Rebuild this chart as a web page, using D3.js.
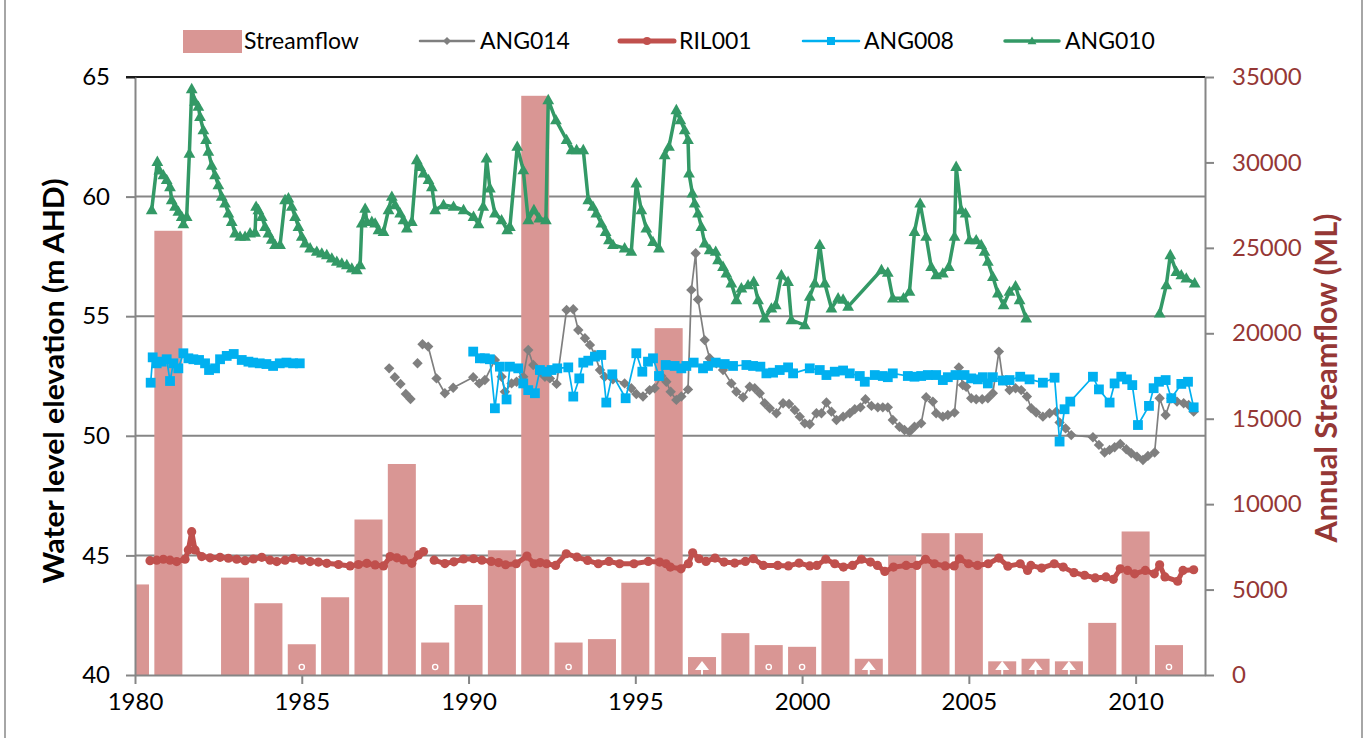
<!DOCTYPE html>
<html><head><meta charset="utf-8">
<script src="https://cdn.jsdelivr.net/npm/d3@7/dist/d3.min.js"></script>
<style>
body{margin:0;background:#fff}
svg{display:block}
text{font-family:Lato,"Open Sans",sans-serif}
</style>
</head><body>
<svg id="chart" width="1368" height="738"></svg>
<script>
// ---------------- DATA ----------------
const flowYears = [1980,1981,1982,1983,1984,1985,1986,1987,1988,1989,1990,1991,1992,1993,1994,1995,1996,1997,1998,1999,2000,2001,2002,2003,2004,2005,2006,2007,2008,2009,2010,2011];
const streamflow = [5300,26000,null,5700,4200,1800,4550,9100,12350,1900,4100,7300,33900,1900,2100,5400,20300,1050,2450,1750,1650,5500,950,7000,8300,8300,800,950,800,3050,8400,1750];
const flowMarkYears = [1985,1989,1993,1997,1999,2000,2002,2006,2007,2008,2011];
const flowMarkTypes = ["dot","dot","dot","tri","dot","dot","tri","tri","tri","tri","dot"];

const ang014 = [[1987.62,52.82],null,[1987.79,52.45],null,[1987.96,52.17],null,[1988.12,51.75],null,[1988.26,51.54],null,[1988.47,53.03],null,
[1988.62,53.83],[1988.79,53.73],[1989.04,52.4],[1989.29,51.78],[1989.54,52.01],[1990.14,52.45],[1990.32,52.19],[1990.49,52.33],[1990.79,53.17],[1990.99,52.47],[1991.09,51.84],[1991.29,52.19],[1991.44,52.26],[1991.64,52.47],[1991.79,53.59],[1991.94,52.96],[1992.14,52.68],[1992.29,52.47],[1992.44,52.4],[1992.64,52.17],[1992.94,55.26],[1993.14,55.29],[1993.29,54.42],[1993.49,54.08],[1993.64,53.8],[1993.79,53.38],[1993.94,52.75],[1994.08,52.47],[1994.33,52.36],[1994.68,52.19],[1994.88,51.99],[1995.03,51.75],[1995.23,51.64],[1995.43,51.91],[1995.58,51.99],[1995.78,52.5],[1995.93,52.26],[1996.06,51.84],[1996.23,51.5],[1996.38,51.64],[1996.58,51.94],[1996.68,56.1],[1996.81,57.63],[1996.88,55.7],[1997.08,54.0],[1997.23,53.24],[1997.43,53.03],[1997.63,52.75],[1997.88,52.19],[1998.03,51.84],[1998.23,51.61],[1998.43,52.05],[1998.58,51.99],[1998.73,51.78],[1998.88,51.36],[1999.03,51.15],[1999.23,50.94],[1999.43,51.36],[1999.61,51.33],[1999.78,51.08],[1999.93,50.8],[2000.08,50.52],[2000.23,50.48],[2000.43,50.94],[2000.58,50.94],[2000.73,51.39],[2000.88,51.01],[2001.03,50.66],[2001.23,50.8],[2001.43,50.94],[2001.58,51.11],[2001.75,51.19],[2001.90,51.53],[2002.08,51.25],[2002.27,51.19],[2002.42,51.19],[2002.57,51.19],[2002.72,50.66],[2002.92,50.38],[2003.07,50.24],[2003.22,50.17],[2003.37,50.38],[2003.57,50.52],[2003.72,51.61],[2003.92,51.43],[2004.02,50.94],[2004.22,50.8],[2004.37,50.87],[2004.57,50.97],[2004.70,52.86],[2004.82,52.12],[2004.92,52.05],[2005.07,51.57],[2005.22,51.53],[2005.40,51.53],[2005.57,51.57],[2005.72,51.78],[2005.90,53.52],[2006.02,52.33],[2006.22,51.91],[2006.40,51.99],[2006.57,51.91],[2006.74,51.64],[2006.87,51.15],[2007.02,50.97],[2007.22,50.8],[2007.42,50.94],[2007.62,51.01],[2007.72,50.56],[2007.90,50.31],[2008.07,50.03],[2008.72,49.94],[2008.90,49.62],[2009.07,49.3],[2009.22,49.41],[2009.37,49.52],[2009.54,49.66],[2009.72,49.44],[2009.87,49.27],[2010.04,49.13],[2010.22,48.99],[2010.37,49.16],[2010.57,49.3],[2010.72,51.57],[2010.90,50.87],[2011.07,51.57],[2011.24,51.43],[2011.44,51.36],[2011.59,51.29],[2011.74,51.01]];

const ril001 = [[1980.45,44.78],[1980.65,44.8],[1980.85,44.84],[1981.05,44.8],[1981.25,44.74],[1981.5,44.84],[1981.6,45.23],[1981.7,45.99],[1981.8,45.23],[1982.0,44.95],[1982.25,44.9],[1982.55,44.92],[1982.8,44.88],[1983.05,44.84],[1983.3,44.78],[1983.55,44.85],[1983.8,44.92],[1984.05,44.8],[1984.25,44.74],[1984.5,44.8],[1984.75,44.88],[1985.0,44.8],[1985.25,44.74],[1985.5,44.72],[1985.75,44.67],[1986.1,44.62],[1986.45,44.56],[1986.7,44.62],[1986.95,44.67],[1987.2,44.6],[1987.45,44.56],[1987.65,44.95],[1987.85,44.9],[1988.05,44.81],[1988.3,44.67],[1988.5,45.02],[1988.65,45.16],null,[1988.97,44.8],[1989.29,44.66],[1989.56,44.73],[1989.85,44.85],[1990.15,44.86],[1990.4,44.8],[1990.68,44.75],[1990.9,44.7],[1991.11,44.61],[1991.43,44.65],[1991.75,44.97],[1991.97,44.65],[1992.15,44.7],[1992.34,44.65],[1992.61,44.58],[1992.93,45.07],[1993.25,44.93],[1993.57,44.79],[1993.89,44.65],[1994.21,44.75],[1994.53,44.65],[1994.96,44.65],[1995.39,44.75],[1995.73,44.72],[1995.92,44.65],[1996.05,44.51],[1996.37,44.44],[1996.59,44.65],[1996.72,45.11],[1996.91,44.86],[1997.12,44.75],[1997.39,44.89],[1997.66,44.72],[1997.98,44.68],[1998.3,44.75],[1998.54,44.86],[1998.84,44.58],[1999.27,44.58],[1999.59,44.56],[1999.91,44.68],[2000.23,44.56],[2000.44,44.58],[2000.71,44.84],[2000.98,44.65],[2001.24,44.51],[2001.51,44.58],[2001.78,44.84],[2002.05,44.72],[2002.26,44.58],[2002.48,44.33],[2002.74,44.51],[2003.12,44.58],[2003.44,44.58],[2003.7,44.84],[2003.97,44.65],[2004.29,44.56],[2004.56,44.56],[2004.72,44.86],[2004.99,44.65],[2005.26,44.58],[2005.58,44.65],[2005.9,44.89],[2006.17,44.55],[2006.54,44.65],[2006.76,44.37],[2006.86,44.58],[2007.18,44.47],[2007.56,44.65],[2007.83,44.51],[2008.15,44.28],[2008.47,44.17],[2008.79,44.06],[2009.11,44.1],[2009.33,44.0],[2009.54,44.44],[2009.76,44.37],[2009.97,44.23],[2010.29,44.37],[2010.56,44.23],[2010.72,44.61],[2010.88,44.1],[2011.26,43.92],[2011.42,44.37],[2011.74,44.4]];

const ang008 = [[1980.47,52.22],[1980.53,53.28],[1980.65,53.03],[1980.80,53.1],[1980.95,53.2],[1981.05,52.29],[1981.15,53.03],[1981.30,52.82],[1981.45,53.45],[1981.60,53.24],[1981.75,53.2],[1981.92,53.17],[1982.10,53.03],[1982.22,52.75],[1982.40,52.82],[1982.55,53.2],[1982.75,53.34],[1982.96,53.42],[1983.20,53.17],[1983.40,53.1],[1983.54,53.06],[1983.74,53.03],[1983.94,53.0],[1984.14,52.92],[1984.34,53.03],[1984.54,53.06],[1984.74,53.03],[1984.94,53.03],null,
[1990.14,53.52],[1990.34,53.24],[1990.49,53.24],[1990.64,53.2],[1990.79,51.15],[1990.94,52.89],[1991.14,51.52],[1991.24,52.89],[1991.49,52.82],[1991.64,52.19],[1991.79,51.91],[1991.99,51.78],[1992.14,52.75],[1992.34,52.68],[1992.49,52.75],[1992.66,52.82],[1992.99,52.86],[1993.14,51.64],[1993.32,52.4],[1993.44,53.06],[1993.59,53.14],[1993.79,53.31],[1993.98,53.38],[1994.13,51.39],[1994.31,52.57],[1994.71,51.57],[1995.03,53.45],[1995.21,52.68],[1995.38,53.1],[1995.53,53.24],[1995.71,52.5],[1995.91,52.96],[1996.18,52.92],[1996.38,52.82],[1996.53,52.92],[1996.75,53.06],[1997.03,52.82],[1997.18,52.92],[1997.41,53.06],[1997.68,53.0],[1997.93,52.92],[1998.33,52.96],[1998.53,52.92],[1998.75,52.89],[1998.93,52.61],[1999.13,52.64],[1999.33,52.75],[1999.58,52.86],[1999.73,52.61],[2000.23,52.82],[2000.53,52.75],[2000.73,52.54],[2000.98,52.68],[2001.23,52.73],[2001.43,52.61],[2001.73,52.5],[2001.88,52.26],[2002.18,52.54],[2002.42,52.5],[2002.57,52.45],[2002.72,52.61],[2003.17,52.5],[2003.37,52.47],[2003.57,52.5],[2003.77,52.54],[2004.02,52.54],[2004.22,52.33],[2004.37,52.45],[2004.60,52.54],[2004.87,52.54],[2005.07,52.4],[2005.27,52.36],[2005.42,52.45],[2005.57,52.19],[2005.72,52.45],[2006.02,52.31],[2006.22,52.33],[2006.54,52.47],[2006.82,52.36],[2007.22,52.22],[2007.57,52.43],[2007.72,49.76],[2007.87,51.11],[2008.04,51.43],[2008.72,52.47],[2008.90,51.94],[2009.22,51.39],[2009.37,52.19],[2009.57,52.47],[2009.74,52.36],[2009.90,52.12],[2010.07,50.45],[2010.40,51.25],[2010.54,51.99],[2010.70,52.26],[2010.90,52.33],[2011.07,51.57],[2011.37,52.17],[2011.57,52.26],[2011.74,51.19]];

const ang010 = [[1980.50,59.44],[1980.67,61.46],[1980.73,61.1],[1980.85,60.9],[1980.95,60.7],[1981.05,60.4],[1981.10,59.86],[1981.20,59.58],[1981.30,59.37],[1981.40,59.16],[1981.45,58.85],[1981.55,59.16],[1981.63,61.8],[1981.70,64.5],[1981.80,63.97],[1981.90,63.76],[1981.95,63.34],[1982.05,62.78],[1982.13,62.37],[1982.20,61.88],[1982.30,61.3],[1982.40,60.9],[1982.50,60.48],[1982.60,60.0],[1982.70,59.72],[1982.80,59.3],[1982.90,58.95],[1983.00,58.47],[1983.15,58.33],[1983.30,58.33],[1983.45,58.47],[1983.60,58.5],[1983.63,59.58],[1983.70,59.44],[1983.80,59.16],[1983.90,58.74],[1984.00,58.47],[1984.10,58.2],[1984.20,57.98],[1984.35,57.98],[1984.50,59.86],[1984.60,59.93],[1984.70,59.58],[1984.80,59.16],[1984.90,58.74],[1985.00,58.33],[1985.10,58.05],[1985.25,57.84],[1985.45,57.7],[1985.60,57.63],[1985.75,57.56],[1985.90,57.42],[1986.05,57.28],[1986.20,57.21],[1986.35,57.14],[1986.50,57.0],[1986.65,56.93],[1986.75,57.14],[1986.80,58.88],[1986.90,59.5],[1986.95,58.95],[1987.10,58.95],[1987.20,58.88],[1987.30,58.6],[1987.45,58.53],[1987.60,59.44],[1987.70,60.0],[1987.80,59.65],[1987.95,59.3],[1988.05,59.02],[1988.15,58.67],[1988.30,58.95],[1988.45,61.53],[1988.55,61.25],[1988.65,60.97],[1988.80,60.7],[1988.90,60.4],[1989.00,59.44],[1989.25,59.65],[1989.55,59.58],[1989.85,59.44],[1990.15,59.16],[1990.30,58.85],[1990.44,59.58],[1990.54,61.6],[1990.64,60.35],[1990.79,59.3],[1990.99,59.02],[1991.16,58.6],[1991.24,58.74],[1991.46,62.09],[1991.64,61.11],[1991.79,59.02],[1991.96,59.44],[1992.12,59.09],[1992.32,59.02],[1992.39,64.04],[1992.62,63.2],[1992.94,62.37],[1993.09,61.95],[1993.24,61.95],[1993.44,61.95],[1993.59,59.86],[1993.73,59.58],[1993.83,59.3],[1993.98,58.88],[1994.11,58.53],[1994.21,58.18],[1994.33,57.98],[1994.68,57.84],[1994.88,57.7],[1995.03,60.56],[1995.18,59.44],[1995.33,58.67],[1995.53,58.11],[1995.71,57.84],[1995.88,61.74],[1996.01,62.09],[1996.23,63.62],[1996.35,63.2],[1996.48,62.78],[1996.58,62.37],[1996.61,60.97],[1996.71,60.14],[1996.78,59.72],[1996.88,59.3],[1996.98,58.74],[1997.08,58.05],[1997.23,57.77],[1997.41,57.7],[1997.48,57.35],[1997.63,57.07],[1997.73,56.79],[1997.88,56.38],[1998.03,55.68],[1998.18,56.17],[1998.38,56.3],[1998.55,56.44],[1998.68,55.68],[1998.88,54.91],[1999.08,55.33],[1999.21,55.47],[1999.38,56.72],[1999.58,56.44],[1999.68,54.84],[2000.08,54.63],[2000.23,55.82],[2000.38,56.38],[2000.53,57.98],[2000.68,56.38],[2000.88,55.33],[2001.08,55.75],[2001.23,55.7],[2001.38,55.4],[2002.38,56.93],[2002.57,56.82],[2002.72,55.75],[2003.04,55.75],[2003.22,56.03],[2003.37,58.53],[2003.54,59.72],[2003.72,58.33],[2003.87,57.07],[2004.02,56.72],[2004.22,56.79],[2004.40,57.07],[2004.57,58.33],[2004.62,61.25],[2004.77,59.44],[2004.90,59.3],[2005.02,58.18],[2005.22,58.18],[2005.37,57.98],[2005.47,57.7],[2005.57,57.28],[2005.72,56.65],[2005.87,55.96],[2006.04,55.47],[2006.22,56.03],[2006.40,56.26],[2006.52,55.68],[2006.72,54.91],null,[2010.72,55.12],[2010.92,56.3],[2011.04,57.56],[2011.22,56.86],[2011.37,56.72],[2011.52,56.58],[2011.77,56.38]];

const xTicks = [1980,1985,1990,1995,2000,2005,2010];
const yLeftTicks = [40,45,50,55,60,65];
const yRightTicks = [0,5000,10000,15000,20000,25000,30000,35000];
const legendNames = ["Streamflow","ANG014","RIL001","ANG008","ANG010"];
const leftTitle = "Water level elevation (m AHD)";
const rightTitle = "Annual Streamflow (ML)";

// ---------------- STYLE ----------------
const C = {bar:"#D99694", gray:"#7F7F7F", red:"#C0504D", blue:"#00B0F0", green:"#339966", axis:"#868686", dark:"#953735"};
const P = {l:135, r:1205, t:77, b:675};

const svg = d3.select("#chart");
svg.append("rect").attr("width",1368).attr("height",738).attr("fill","#fff");
svg.append("line").attr("x1",5).attr("x2",5).attr("y1",0).attr("y2",738).attr("stroke","#A6A6A6").attr("stroke-width",2);
svg.append("line").attr("x1",1362).attr("x2",1362).attr("y1",0).attr("y2",738).attr("stroke","#A6A6A6").attr("stroke-width",2);

const x = d3.scaleLinear().domain([1980,2012.08]).range([P.l,P.r]);
const yL = d3.scaleLinear().domain([40,65]).range([P.b,P.t]);
const yR = d3.scaleLinear().domain([0,35000]).range([P.b,P.t]);

svg.append("defs").append("clipPath").attr("id","plot")
  .append("rect").attr("x",P.l).attr("y",P.t-10).attr("width",P.r-P.l).attr("height",P.b-P.t+10);

// gridlines
svg.append("g").selectAll("line").data(yLeftTicks.filter(v=>v>40&&v<65)).join("line")
  .attr("x1",P.l).attr("x2",P.r).attr("y1",d=>yL(d)).attr("y2",d=>yL(d))
  .attr("stroke",C.axis).attr("stroke-width",2);

// bars
const barW = x(1980.84)-x(1980);
const flow = flowYears.map((yr,i)=>({yr, v:streamflow[i]})).filter(d=>d.v!=null);
svg.append("g").attr("clip-path","url(#plot)").selectAll("rect").data(flow).join("rect")
  .attr("x",d=>x(d.yr)-barW/2).attr("width",barW)
  .attr("y",d=>yR(d.v)).attr("height",d=>yR(0)-yR(d.v))
  .attr("fill",C.bar);

// small white marks at the foot of some bars
const marks = flowMarkYears.map((yr,i)=>({yr,t:flowMarkTypes[i]}));
const mg = svg.append("g");
marks.forEach(m=>{
  const cx = x(m.yr), cy = yR(0)-10;
  if(m.t==="tri"){
    mg.append("path").attr("d",`M${cx-7},${cy+5}L${cx},${cy-4}L${cx+7},${cy+5}Z`).attr("fill","#fff");
    mg.append("rect").attr("x",cx-1).attr("y",cy+5).attr("width",2).attr("height",5).attr("fill","#fff");
  } else {
    mg.append("circle").attr("cx",cx).attr("cy",cy+2).attr("r",2.6).attr("fill","none").attr("stroke","#fff").attr("stroke-width",1.4);
  }
});

// top border line
svg.append("line").attr("x1",P.l-9).attr("x2",P.r).attr("y1",P.t).attr("y2",P.t).attr("stroke","#1a1a1a").attr("stroke-width",2);

// axes
const fs = 24;
const gL = svg.append("g").attr("transform",`translate(${P.l},0)`)
  .call(d3.axisLeft(yL).tickValues(yLeftTicks).tickSize(9).tickSizeOuter(0).tickPadding(16).tickFormat(d3.format("d")));
const gR = svg.append("g").attr("transform",`translate(${P.r},0)`)
  .call(d3.axisRight(yR).tickValues(yRightTicks).tickSize(9).tickSizeOuter(0).tickPadding(18).tickFormat(d3.format("d")));
const gB = svg.append("g").attr("transform",`translate(0,${P.b})`)
  .call(d3.axisBottom(x).tickValues(xTicks).tickSize(9).tickSizeOuter(0).tickPadding(9).tickFormat(d3.format("d")));
[gL,gR,gB].forEach(g=>{
  g.select(".domain").attr("stroke",C.axis).attr("stroke-width",2);
  g.selectAll(".tick line").attr("stroke",C.axis).attr("stroke-width",2);
  g.selectAll(".tick text").attr("font-size",fs).attr("font-family","Lato, 'Open Sans', sans-serif").attr("fill","#000");
});
gR.selectAll(".tick text").attr("fill",C.dark);
gL.selectAll(".tick:last-of-type line").attr("stroke","#1a1a1a");

// axis titles
svg.append("text").attr("transform",`translate(64,381) rotate(-90)`).attr("text-anchor","middle")
  .attr("font-size",28.5).attr("font-weight","bold").attr("fill","#000")
  .attr("textLength",405).attr("lengthAdjust","spacingAndGlyphs").text(leftTitle);
svg.append("text").attr("transform",`translate(1337,378) rotate(-90)`).attr("text-anchor","middle")
  .attr("font-size",29.5).attr("font-weight","bold").attr("fill",C.dark)
  .attr("textLength",329).attr("lengthAdjust","spacingAndGlyphs").text(rightTitle);

// series
const lineGen = d3.line().defined(d=>d!=null).x(d=>x(d[0])).y(d=>yL(d[1]));
const diamond = r=>`M0,${-r}L${r},0L0,${r}L${-r},0Z`;
const square = r=>`M${-r},${-r}H${r}V${r}H${-r}Z`;
const triangle = r=>`M0,${-r*1.1}L${r*1.05},${r*0.75}L${-r*1.05},${r*0.75}Z`;
const circle = r=>d3.symbol(d3.symbolCircle, Math.PI*r*r)();

const series = [
  {name:"ANG014", data:ang014, color:C.gray, lw:1.7, shape:diamond(5.2)},
  {name:"RIL001", data:ril001, color:C.red, lw:5, shape:circle(4.6)},
  {name:"ANG008", data:ang008, color:C.blue, lw:1.7, shape:square(4.9)},
  {name:"ANG010", data:ang010, color:C.green, lw:3.5, shape:triangle(5.6)}
];
const sg = svg.append("g").attr("clip-path","url(#plot)");
series.forEach(s=>{
  sg.append("path").datum(s.data).attr("d",lineGen).attr("fill","none")
    .attr("stroke",s.color).attr("stroke-width",s.lw).attr("stroke-linejoin","round");
  sg.append("g").selectAll("path").data(s.data.filter(d=>d!=null)).join("path")
    .attr("d",s.shape).attr("transform",d=>`translate(${x(d[0])},${yL(d[1])})`).attr("fill",s.color);
});

// legend
const lg = svg.append("g");
const lgY = 41;
lg.append("rect").attr("x",183).attr("y",30).attr("width",59).attr("height",23).attr("fill",C.bar);
lg.append("text").attr("x",244).attr("y",49).attr("font-size",23).text(legendNames[0]);
const lItems = [
  {x0:420,x1:474,tx:480,s:series[0],mk:diamond(4)},
  {x0:620,x1:674,tx:679,s:series[1],mk:circle(4)},
  {x0:803,x1:859,tx:864,s:series[2],mk:square(4)},
  {x0:1005,x1:1059,tx:1065,s:series[3],mk:triangle(4.2)}
];
lItems.forEach((it,i)=>{
  lg.append("line").attr("x1",it.x0).attr("x2",it.x1).attr("y1",lgY).attr("y2",lgY)
    .attr("stroke",it.s.color).attr("stroke-width",Math.max(it.s.lw,2.5)).attr("stroke-linecap","round");
  lg.append("path").attr("d",it.mk).attr("transform",`translate(${(it.x0+it.x1)/2},${lgY})`).attr("fill",it.s.color);
  lg.append("text").attr("x",it.tx).attr("y",49).attr("font-size",23).text(legendNames[i+1]);
});
</script>
</body></html>
